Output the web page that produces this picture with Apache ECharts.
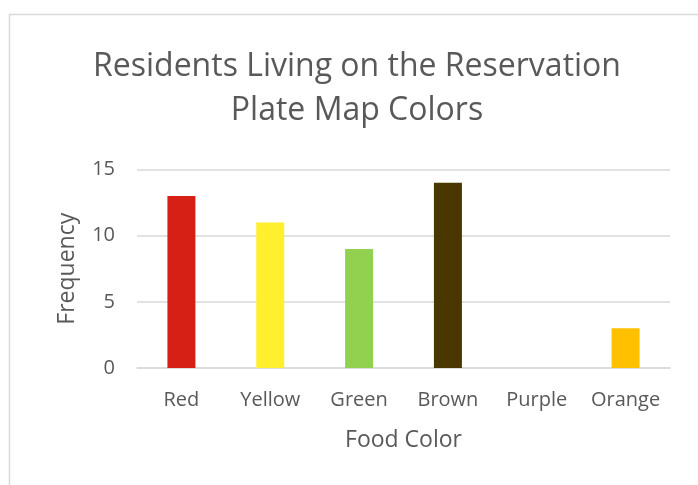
<!DOCTYPE html>
<html>
<head>
<meta charset="utf-8">
<script src="https://cdn.jsdelivr.net/npm/echarts@6/dist/echarts.min.js"></script>
<style>
html,body{margin:0;padding:0;background:#fff;}
#chart{width:698px;height:485px;}
</style>
</head>
<body>
<div id="chart"></div>
<script>
var categories = ['Red', 'Yellow', 'Green', 'Brown', 'Purple', 'Orange'];
var frequency = [13, 11, 9, 14, 0, 3];
var barColors = ['#d62015', '#ffef2f', '#92d050', '#4a3700', '#7030a0', '#ffc000'];

var myChart = echarts.init(document.getElementById('chart'));

var seriesData = [];
for (var i = 0; i < categories.length; i++) {
    seriesData.push({value: frequency[i], itemStyle: {color: barColors[i]}});
}

myChart.setOption({
    animation: false,
    textStyle: {fontFamily: 'Open Sans'},
    graphic: [{
        type: 'rect',
        silent: true,
        shape: {x: 9.5, y: 14.5, width: 720, height: 500},
        style: {fill: 'none', stroke: '#d9d9d9', lineWidth: 1.5}
    }],
    title: {
        text: 'Residents Living on the Reservation\nPlate Map Colors',
        left: 352,
        top: 40,
        textAlign: 'center',
        textStyle: {
            fontFamily: 'Open Sans',
            fontSize: 32,
            fontWeight: 'normal',
            color: '#595959',
            lineHeight: 44
        }
    },
    grid: {left: 137, right: 28, top: 169.5, bottom: 117},
    xAxis: {
        type: 'category',
        data: categories,
        name: 'Food Color',
        nameLocation: 'middle',
        nameGap: 61,
        nameTextStyle: {fontSize: 23, color: '#595959'},
        axisLine: {lineStyle: {color: '#d9d9d9', width: 1.5}},
        axisTick: {show: false},
        axisLabel: {fontSize: 20, color: '#595959', margin: 22, interval: 0}
    },
    yAxis: {
        type: 'value',
        min: 0,
        max: 15,
        interval: 5,
        name: 'Frequency',
        nameLocation: 'middle',
        nameGap: 58,
        nameTextStyle: {fontSize: 23, color: '#595959'},
        axisLine: {show: false},
        axisTick: {show: false},
        axisLabel: {fontSize: 20, color: '#595959', margin: 22},
        splitLine: {lineStyle: {color: '#d9d9d9', width: 1.5}}
    },
    series: [{
        type: 'bar',
        data: seriesData,
        barWidth: 28
    }]
});
</script>
</body>
</html>
